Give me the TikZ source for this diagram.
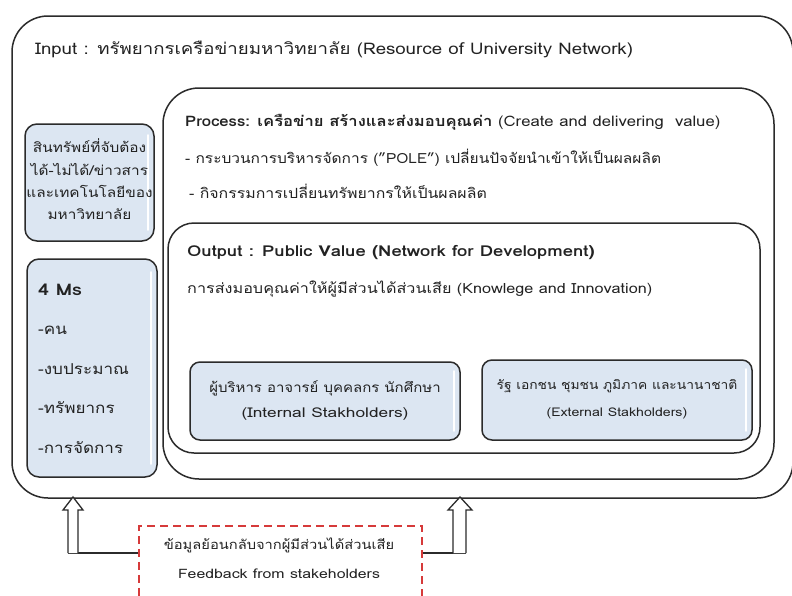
\documentclass[tikz,border=0pt]{standalone}
\usepackage{fontspec}
\setmainfont{Loma}[Script=Thai]
\definecolor{boxblue}{HTML}{DCE6F2}
\definecolor{ink}{HTML}{222222}
\definecolor{edge}{HTML}{2B2B2B}
\definecolor{fbred}{HTML}{D63A3A}
% horizontally widened text
\newcommand{\wide}[2]{\scalebox{#1}[1]{#2}}
\newcommand{\fs}[1]{\fontsize{#1}{#1}\selectfont}
\tikzset{
  frame/.style={draw=edge, line width=1.5pt, fill=white},
  bluebox/.style={draw=edge, line width=1.5pt, fill=boxblue, rounded corners=12pt},
  txt/.style={text=ink, inner sep=0pt, anchor=base west},
  ctxt/.style={text=ink, inner sep=0pt, anchor=base},
  gloss/.style={draw=white, line width=2.5pt, line cap=round},
  hollowarrow/.style={draw=edge, line width=1.3pt, fill=white, line join=miter},
  feedline/.style={draw=edge, line width=1.5pt},
  feedbox/.style={draw=fbred, line width=1.8pt, dash pattern=on 8pt off 5pt}
}
\begin{document}
\begin{tikzpicture}[x=1pt,y=-1pt]
\useasboundingbox (0,0) rectangle (792,595);
\clip (0,0) rectangle (792,595);

% outer input frame
\node[frame, rounded corners=36pt, minimum width=781pt, minimum height=482pt] (input) at (402.5,257) {};
\node[txt] (inputtitle) at (35,54)
  {\fs{16}\wide{1.166}{Input : ทรัพยากรเครือข่ายมหาวิทยาลัย (Resource of University Network)}};

% resources of the network
\node[bluebox, minimum width=129pt, minimum height=117pt] (assets) at (89.5,182.5) {};
\draw[gloss] ([xshift=-7pt,yshift=-12pt]assets.north east) -- ([xshift=-7pt,yshift=12pt]assets.south east);
\node[ctxt] (assets1) at (89.5,152) {\fs{13.5}\wide{1.14}{สินทรัพย์ที่จับต้อง}};
\node[ctxt] (assets2) at (89.5,175) {\fs{13.5}\wide{1.14}{ได้-ไม่ได้/ข่าวสาร}};
\node[ctxt] (assets3) at (89.5,197) {\fs{13.5}\wide{1.14}{และเทคโนโลยีของ}};
\node[ctxt] (assets4) at (89.5,219) {\fs{13.5}\wide{1.14}{มหาวิทยาลัย}};

\node[bluebox, minimum width=130pt, minimum height=218pt] (ms) at (92,368) {};
\draw[gloss] ([xshift=-7pt,yshift=-14pt]ms.north east) -- ([xshift=-7pt,yshift=14pt]ms.south east);
\node[txt] (ms1) at (38,295) {\fs{16}\bfseries\wide{1.23}{4 Ms}};
\node[txt] (ms2) at (38,334) {\fs{15}\wide{1.14}{-คน}};
\node[txt] (ms3) at (38,374) {\fs{15}\wide{1.14}{-งบประมาณ}};
\node[txt] (ms4) at (38,413) {\fs{15}\wide{1.14}{-ทรัพยากร}};
\node[txt] (ms5) at (38,453) {\fs{15}\wide{1.14}{-การจัดการ}};

% process frame
\node[frame, rounded corners=36pt, minimum width=611pt, minimum height=391pt] (process) at (468.5,283.5) {};
\node[txt] (proctitle) at (185,126)
  {\fs{14.5}\wide{1.148}{\textbf{Process: เครือข่าย สร้างและส่งมอบคุณค่า} (Create and delivering\ \ value)}};
\node[txt] (proc1) at (185,163)
  {\fs{14}\wide{1.107}{- กระบวนการบริหารจัดการ ("POLE") เปลี่ยนปัจจัยนำเข้าให้เป็นผลผลิต}};
\node[txt] (proc2) at (189,198)
  {\fs{14}\wide{1.133}{- กิจกรรมการเปลี่ยนทรัพยากรให้เป็นผลผลิต}};

% output frame
\node[frame, rounded corners=26pt, minimum width=592pt, minimum height=230pt] (output) at (464,338) {};
\node[txt] (outtitle) at (187,256)
  {\fs{15}\bfseries\wide{1.23}{Output : Public Value (Network for Development)}};
\node[txt] (out1) at (187,293)
  {\fs{14}\wide{1.157}{การส่งมอบคุณค่าให้ผู้มีส่วนได้ส่วนเสีย (Knowlege and Innovation)}};

% stakeholders
\node[bluebox, rounded corners=10pt, minimum width=270pt, minimum height=78pt] (internal) at (325,401) {};
\draw[gloss] ([xshift=-7pt,yshift=-10pt]internal.north east) -- ([xshift=-7pt,yshift=10pt]internal.south east);
\node[ctxt] (internal1) at (325,392) {\fs{13.5}\wide{1.11}{ผู้บริหาร อาจารย์ บุคคลกร นักศึกษา}};
\node[ctxt] (internal2) at (325,417) {\fs{13.5}\wide{1.28}{(Internal Stakholders)}};

\node[bluebox, rounded corners=10pt, minimum width=270pt, minimum height=80pt] (external) at (617,400) {};
\draw[gloss] ([xshift=-7pt,yshift=-10pt]external.north east) -- ([xshift=-7pt,yshift=10pt]external.south east);
\node[ctxt] (external1) at (617,389) {\fs{12.5}\wide{1.105}{รัฐ เอกชน ชุมชน ภูมิภาค และนานาชาติ}};
\node[ctxt] (external2) at (617,416) {\fs{12}\wide{1.18}{(External Stakholders)}};

% feedback loop
\node[feedbox, minimum width=283pt, minimum height=100pt, anchor=north west] (feedback) at (138,525) {};
\node[ctxt] (fbthai) at (279,549) {\fs{13}\wide{1.13}{ข้อมูลย้อนกลับจากผู้มีส่วนได้ส่วนเสีย}};
\node[ctxt] (fbeng) at (279,578) {\fs{13}\wide{1.22}{Feedback from stakeholders}};

\coordinate (lfoot) at (68,553);
\coordinate (rfoot) at (466,553);
\draw[feedline] (lfoot) -- (feedback.north west |- lfoot);
\draw[feedline] (feedback.north east |- rfoot) -- (rfoot);

% hollow arrows up into the input frame
\draw[hollowarrow] (68,553) -- (68,510) -- (63,510) -- (73,497) -- (83,510) -- (78,510) -- (78,553);
\draw[hollowarrow] (453,553) -- (453,510) -- (448,510) -- (460,497) -- (472,510) -- (466,510) -- (466,553);
\end{tikzpicture}
\end{document}
